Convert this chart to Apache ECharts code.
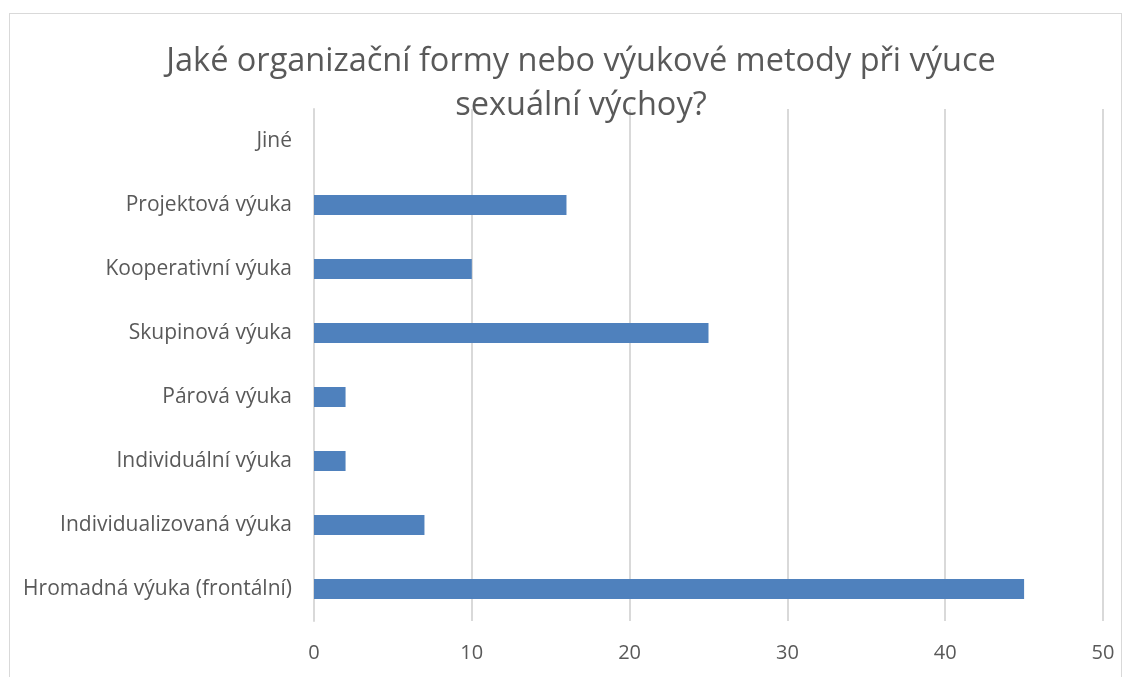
<!DOCTYPE html>
<html>
<head>
<meta charset="utf-8">
<script src="https://cdn.jsdelivr.net/npm/echarts@6/dist/echarts.min.js"></script>
<style>
  html, body { margin: 0; padding: 0; background: #fff; }
  #frame { position: absolute; left: 9px; top: 13px; width: 1113px; height: 680px; border: 1px solid #d9d9d9; box-sizing: border-box; }
  #main { position: absolute; left: 0; top: 0; width: 1132px; height: 677px; }
</style>
</head>
<body>
<div id="frame"></div>
<div id="main"></div>
<script>
// kategorie odspodu nahoru (jak je kreslí osa)
const categories = [
  'Hromadná výuka (frontální)',
  'Individualizovaná výuka',
  'Individuální výuka',
  'Párová výuka',
  'Skupinová výuka',
  'Kooperativní výuka',
  'Projektová výuka',
  'Jiné'
];
const values = [45, 7, 2, 2, 25, 10, 16, 0];
const titleText = 'Jaké organizační formy nebo výukové metody při výuce\nsexuální výchoy?';

const chart = echarts.init(document.getElementById('main'));
const font = '"Open Sans", "Noto Sans", sans-serif';

chart.setOption({
  animation: false,
  title: {
    text: titleText,
    left: 576,
    textAlign: 'center',
    top: 35,
    textStyle: { fontFamily: font, fontSize: 32.5, fontWeight: 'normal', color: '#595959', lineHeight: 44 }
  },
  grid: { left: 314, right: 29, top: 109, bottom: 56 },
  xAxis: {
    type: 'value',
    min: 0,
    max: 50,
    interval: 10,
    axisLine: { show: false },
    axisTick: { show: false },
    splitLine: { lineStyle: { color: '#d9d9d9', width: 2 } },
    axisLabel: { fontFamily: font, fontSize: 20, color: '#595959', margin: 22 }
  },
  yAxis: {
    type: 'category',
    data: categories,
    axisLine: { show: true, lineStyle: { color: '#d9d9d9', width: 2 } },
    axisTick: { show: false },
    axisLabel: { fontFamily: font, fontSize: 21, color: '#595959', margin: 22 }
  },
  series: [{
    type: 'bar',
    data: values,
    barWidth: 20,
    itemStyle: { color: '#4f81bd' }
  }]
});
</script>
</body>
</html>
